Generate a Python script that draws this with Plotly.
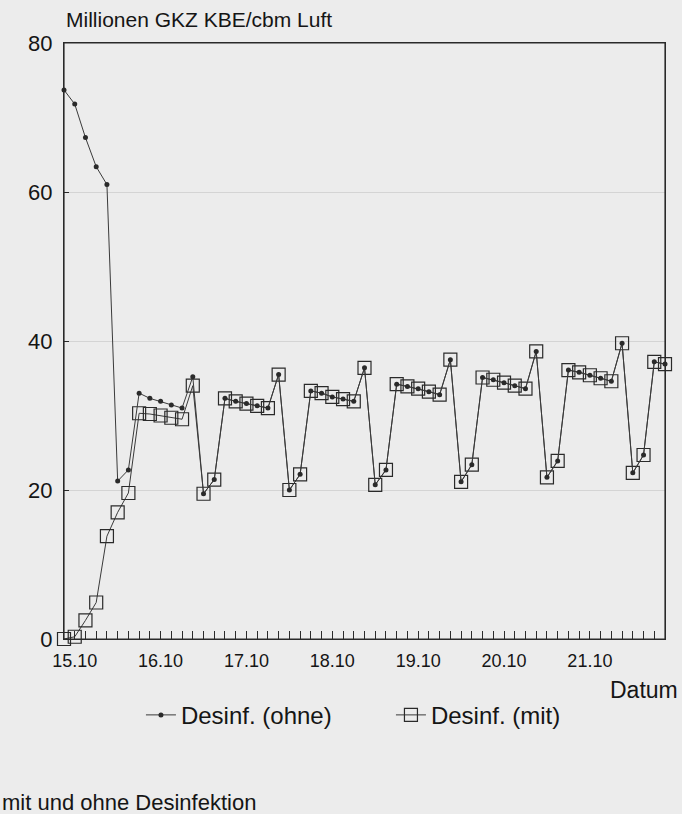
import plotly.graph_objects as go

# x = sampling index (every 3 hours, 8 per day)
x_index = list(range(57))
date_ticks = [1, 9, 17, 25, 33, 41, 49]
date_labels = ["15.10", "16.10", "17.10", "18.10", "19.10", "20.10", "21.10"]

ohne = [73.7, 71.8, 67.3, 63.4, 61.0, 21.2, 22.7,
        33.0, 32.3, 31.9, 31.4, 31.0, 35.2, 19.5, 21.4,
        32.3, 31.9, 31.6, 31.3, 31.0, 35.5, 20.0, 22.1,
        33.3, 33.0, 32.5, 32.2, 31.9, 36.4, 20.7, 22.7,
        34.2, 33.9, 33.6, 33.2, 32.8, 37.5, 21.1, 23.4,
        35.1, 34.8, 34.4, 34.0, 33.6, 38.6, 21.7, 23.9,
        36.1, 35.8, 35.4, 35.0, 34.6, 39.7, 22.3, 24.7,
        37.2, 36.9]
mit = [0.0, 0.3, 2.5, 4.9, 13.8, 17.0, 19.6,
       30.3, 30.2, 30.0, 29.7, 29.5, 34.0, 19.5, 21.4,
       32.3, 31.9, 31.6, 31.3, 31.0, 35.5, 20.0, 22.1,
       33.3, 33.0, 32.5, 32.2, 31.9, 36.4, 20.7, 22.7,
       34.2, 33.9, 33.6, 33.2, 32.8, 37.5, 21.1, 23.4,
       35.1, 34.8, 34.4, 34.0, 33.6, 38.6, 21.7, 23.9,
       36.1, 35.8, 35.4, 35.0, 34.6, 39.7, 22.3, 24.7,
       37.2, 36.9]

FONT = "Liberation Sans, Arial, Helvetica, sans-serif"
INK = "#2a2a2a"
LINE = "#3a3a3a"
TXT = "#151515"
BG = "#ececec"

fig = go.Figure()
fig.add_trace(go.Scatter(
    x=x_index, y=mit, name="Desinf. (mit)", mode="lines+markers",
    line=dict(color=LINE, width=1),
    marker=dict(symbol="square-open", size=13, color=INK, line=dict(width=1.2, color=INK)),
    cliponaxis=False,
))
fig.add_trace(go.Scatter(
    x=x_index, y=ohne, name="Desinf. (ohne)", mode="lines+markers",
    line=dict(color=LINE, width=1),
    marker=dict(symbol="circle", size=5, color=INK),
    cliponaxis=False,
))

tickvals = x_index
ticktext = [date_labels[date_ticks.index(i)] if i in date_ticks else "" for i in x_index]

fig.update_layout(
    width=682, height=814,
    margin=dict(l=64, r=17, t=43, b=175),
    paper_bgcolor=BG, plot_bgcolor=BG,
    font=dict(family=FONT, color=TXT),
    showlegend=True,
    legend=dict(orientation="h", x=0.544, xanchor="center", y=-0.128, yanchor="middle",
                font=dict(size=24, family=FONT, color=TXT), traceorder="reversed",
                bgcolor="rgba(0,0,0,0)", itemwidth=30,
                entrywidth=205, entrywidthmode="pixels"),
    xaxis=dict(range=[0, 56], tickvals=tickvals, ticktext=ticktext,
               ticks="inside", ticklen=8, tickwidth=1, tickcolor=INK,
               showline=True, linecolor=INK, linewidth=1.2, mirror=True,
               showgrid=False, zeroline=False, ticklabelstandoff=5,
               tickfont=dict(size=18, family=FONT, color=TXT)),
    yaxis=dict(range=[0, 80], tickvals=[0, 20, 40, 60, 80],
               ticks="inside", ticklen=5, tickwidth=1, tickcolor=INK,
               showline=True, linecolor=INK, linewidth=1.2, mirror=True,
               showgrid=True, gridcolor="#d4d4d4", gridwidth=1, zeroline=False,
               ticklabelstandoff=6,
               tickfont=dict(size=22, family=FONT, color=TXT)),
    shapes=[dict(type="rect", xref="paper", yref="paper", x0=0, x1=1, y0=0, y1=1,
                 line=dict(color=INK, width=1.2), fillcolor="rgba(0,0,0,0)", layer="above")],
    annotations=[
        dict(text="Millionen GKZ KBE/cbm Luft", xref="paper", yref="paper",
             x=0.0, y=1.0386, xanchor="left", yanchor="middle", showarrow=False,
             font=dict(size=21, family=FONT, color=TXT)),
        dict(text="Datum", xref="paper", yref="paper",
             x=1.025, y=-0.0856, xanchor="right", yanchor="middle", showarrow=False,
             font=dict(size=23, family=FONT, color=TXT)),
        dict(text="mit und ohne Desinfektion", xref="paper", yref="paper",
             x=-0.106, y=-0.275, xanchor="left", yanchor="middle", showarrow=False,
             font=dict(size=22, family=FONT, color=TXT)),
    ],
)

fig.write_html("out.html", config={"displayModeBar": False},
               post_script="document.body.style.margin='0';document.body.style.overflow='hidden';")
